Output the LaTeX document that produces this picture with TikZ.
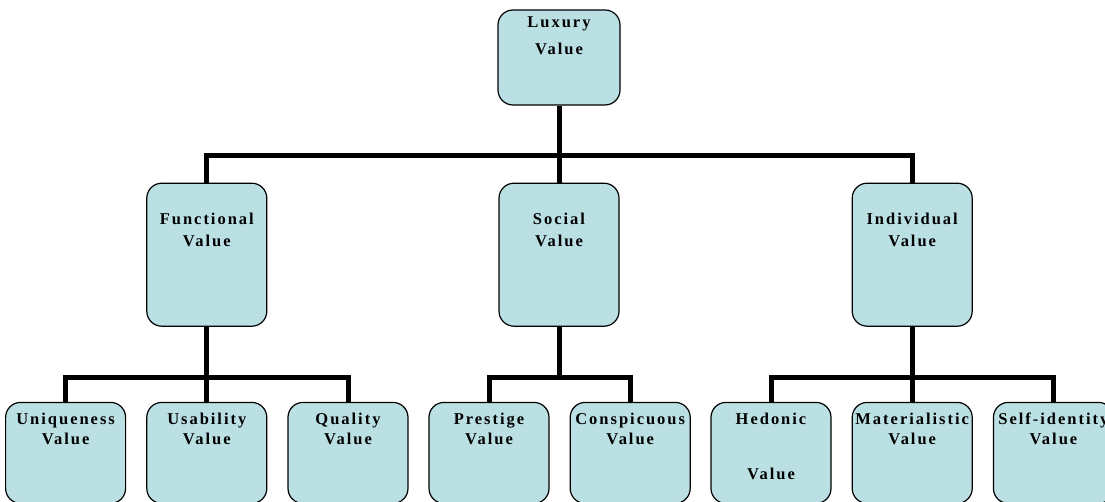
\documentclass[tikz,border=0pt]{standalone}
\usepackage{fontspec}
\newfontfamily\valuefont{Liberation Serif}[LetterSpace=12]
\usepackage{tikz}
\usetikzlibrary{positioning}
\definecolor{boxfill}{RGB}{187,224,228}
\tikzstyle{valuebox} = [
    rectangle,
    draw,
    line width = 1.2pt,
    fill = boxfill,
    rounded corners = 15pt,
    minimum width = 120pt,
    minimum height = 101pt,
    inner sep = 0pt
]
\tikzstyle{valuetext} = [
    font = \valuefont\bfseries\fontsize{16.5}{20}\selectfont,
    align = center,
    inner sep = 0pt
]
\tikzstyle{link} = [
    draw,
    line width = 5pt
]

\begin{document}
\begin{tikzpicture}[x = 1pt, y = -1pt]

                \clip (0,0) rectangle (1105,502);

                % top
                \node [valuebox, minimum width = 122pt, minimum height = 95pt] (lux) at (559,57.5) {};
                \node [valuetext, below = 7pt of lux.north] (luxText) {Luxury\\[7pt]Value};

                % middle row
                \node [valuebox, minimum height = 143pt, below = 77pt of lux] (soc) {};
                \node [valuebox, minimum height = 143pt, left = 231pt of soc] (func) {};
                \node [valuebox, minimum height = 143pt, right = 232pt of soc] (indiv) {};
                \node [valuetext, below = 30pt of func.north] (funcText) {Functional\\[2pt]Value};
                \node [valuetext, below = 30pt of soc.north] (socText) {Social\\[2pt]Value};
                \node [valuetext, below = 30pt of indiv.north] (indivText) {Individual\\[2pt]Value};

                % functional
                \node [valuebox, below = 75pt of func] (usab) {};
                \node [valuebox, left = 20pt of usab] (uniq) {};
                \node [valuebox, right = 20pt of usab] (qual) {};
                \node [valuetext, below = 11pt of uniq.north] (uniqText) {Uniqueness\\Value};
                \node [valuetext, below = 11pt of usab.north] (usabText) {Usability\\Value};
                \node [valuetext, below = 11pt of qual.north] (qualText) {Quality\\Value};

                % social
                \node [valuebox, below = 75pt of soc, xshift = -70pt] (pres) {};
                \node [valuebox, right = 20pt of pres] (consp) {};
                \node [valuetext, below = 11pt of pres.north] (presText) {Prestige\\Value};
                \node [valuetext, below = 11pt of consp.north] (conspText) {Conspicuous\\Value};

                % individual
                \node [valuebox, below = 75pt of indiv] (mater) {};
                \node [valuebox, left = 20pt of mater] (hedon) {};
                \node [valuebox, right = 20pt of mater] (self) {};
                \node [valuetext, below = 11pt of hedon.north] (hedonText) {Hedonic\\[35pt]Value};
                \node [valuetext, below = 11pt of mater.north] (materText) {Materialistic\\Value};
                \node [valuetext, below = 11pt of self.north] (selfText) {Self-identity\\Value};

                % connectors
                \coordinate [below = 50pt of lux.south] (busTop);
                \coordinate [below = 51pt of func.south] (busFunc);
                \coordinate [below = 51pt of soc.south] (busSoc);
                \coordinate [below = 51pt of indiv.south] (busIndiv);

                \draw [link] (lux.south) -- (busTop) -- (soc.north);
                \draw [link] (func.north) |- (busTop) -| (indiv.north);

                \draw [link] (func.south) -- (busFunc) -- (usab.north);
                \draw [link] (uniq.north) |- (busFunc) -| (qual.north);

                \draw [link] (soc.south) -- (busSoc);
                \draw [link] (pres.north) |- (busSoc) -| (consp.north);

                \draw [link] (indiv.south) -- (busIndiv) -- (mater.north);
                \draw [link] (hedon.north) |- (busIndiv) -| (self.north);

            \end{tikzpicture}
\end{document}
